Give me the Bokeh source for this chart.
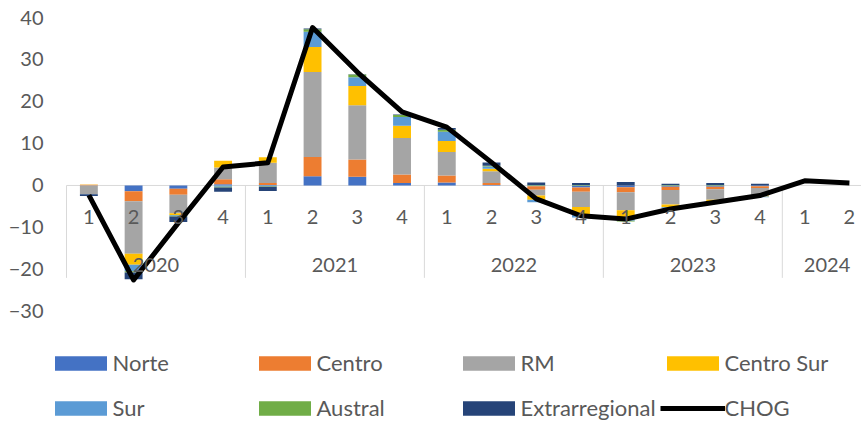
from bokeh.plotting import figure
from bokeh.models import Range1d, FixedTicker, Legend, LegendItem
from bokeh.core.properties import value
from bokeh.embed import file_html
from bokeh.resources import INLINE

# ---------------- data ----------------
years = ["2020", "2021", "2022", "2023", "2024"]
quarters_per_year = [4, 4, 4, 4, 2]
quarters = ["1", "2", "3", "4", "1", "2", "3", "4", "1", "2", "3", "4",
            "1", "2", "3", "4", "1", "2"]

norte = [0.0, -1.35, -0.8, 0.3, 0.1, 2.2, 2.1, 0.6, 0.7, 0.1, -0.2, -0.5,
         -0.4, -0.3, -0.3, -0.2, 0.0, 0.0]
centro = [0.15, -2.4, -1.4, 1.2, 0.5, 4.6, 4.1, 2.0, 1.7, 0.5, -0.8, -1.0,
          -1.2, -0.8, -0.6, -0.4, 0.0, 0.0]
rm = [-2.0, -12.5, -4.4, 2.8, 4.8, 20.2, 12.9, 8.7, 5.6, 2.8, -1.4, -3.6,
      -4.3, -3.4, -2.5, -1.8, 0.0, 0.0]
centro_sur = [0.1, -2.6, -0.4, 1.6, 1.3, 6.0, 4.6, 2.9, 2.6, 0.6, -1.0, -1.7,
              -1.6, -0.7, -0.6, -0.2, 0.0, 0.0]
sur = [-0.1, -1.6, -0.2, -0.3, -0.2, 3.6, 2.1, 2.1, 2.2, 0.5, -0.6, -0.8,
       -0.9, -0.3, -0.2, -0.2, 0.0, 0.0]
austral = [0.0, -0.3, -0.2, -0.2, -0.1, 0.6, 0.6, 0.5, 0.5, 0.2, 0.1, 0.1,
           -0.2, 0.1, 0.1, 0.0, 0.0, 0.0]
extrarregional = [-0.4, -1.6, -1.3, -1.0, -1.0, 0.2, 0.1, 0.1, 0.4, 0.8, 0.6, 0.5,
                  0.8, 0.3, 0.5, 0.4, 0.0, 0.0]
chog = [-2.3, -22.5, -8.9, 4.4, 5.4, 37.6, 27.0, 17.5, 13.9, 5.5, -3.2, -7.2,
        -8.0, -5.6, -4.0, -2.4, 1.1, 0.6]

series_names = ["Norte", "Centro", "RM", "Centro Sur", "Sur", "Austral", "Extrarregional"]
series_values = [norte, centro, rm, centro_sur, sur, austral, extrarregional]
series_colors = ["#4472C4", "#ED7D31", "#A5A5A5", "#FFC000", "#5B9BD5", "#70AD47", "#264478"]

y_ticks = [-30, -20, -10, 0, 10, 20, 30, 40]

# ---------------- figure ----------------
FONT = "Lato"
TXT = "#595959"
n = len(quarters)
xs = [i + 0.5 for i in range(n)]

p = figure(width=861, height=421, output_backend="svg", toolbar_location=None,
           x_range=Range1d(-0.4246, 17.77), y_range=Range1d(-56.2, 40),
           x_axis_location=None, min_border_left=47, min_border_right=0,
           min_border_top=17, min_border_bottom=0)
p.outline_line_color = None
p.xgrid.visible = False
p.ygrid.visible = False
p.background_fill_color = "white"
p.border_fill_color = "white"

yax = p.yaxis[0]
yax.ticker = FixedTicker(ticks=y_ticks)
yax.axis_line_color = None
yax.major_tick_line_color = None
yax.minor_tick_line_color = None
yax.major_tick_out = 0
yax.major_tick_in = 0
yax.major_label_standoff = 4
yax.major_label_text_font = FONT
yax.major_label_text_font_size = "20px"
yax.major_label_text_color = TXT

# zero (category) axis line
p.segment(x0=[0], y0=[0], x1=[n], y1=[0], line_color="#D9D9D9", line_width=1)

# year separators
bounds = [0]
for q in quarters_per_year:
    bounds.append(bounds[-1] + q)
p.segment(x0=bounds, y0=[0] * len(bounds), x1=bounds, y1=[-22] * len(bounds),
          line_color="#D9D9D9", line_width=1)

# stacked bars
pos = [0.0] * n
neg = [0.0] * n
bar_renderers = []
for name, vals, col in zip(series_names, series_values, series_colors):
    bottom, top = [], []
    for i, v in enumerate(vals):
        if v >= 0:
            bottom.append(pos[i]); top.append(pos[i] + v); pos[i] += v
        else:
            top.append(neg[i]); bottom.append(neg[i] + v); neg[i] += v
    r = p.vbar(x=xs, bottom=bottom, top=top, width=0.4, fill_color=col,
               line_color=None)
    bar_renderers.append(r)

line_r = p.line(xs, chog, line_color="black", line_width=5, line_join="round")

# category labels
p.text(x=xs, y=[-7.6] * n, text=quarters, text_align="center",
       text_baseline="middle", text_font=value(FONT), text_font_size="20px",
       text_color=TXT)
year_centers = [(bounds[i] + bounds[i + 1]) / 2 for i in range(len(years))]
p.text(x=year_centers, y=[-18.9] * len(years), text=years, text_align="center",
       text_baseline="middle", text_font=value(FONT), text_font_size="20px",
       text_color=TXT)

# legends
all_items = [LegendItem(label=nm, renderers=[r]) for nm, r in zip(series_names, bar_renderers)]
all_items.append(LegendItem(label="CHOG", renderers=[line_r]))


def make_legend(items, loc):
    lg = Legend(items=items, orientation="horizontal", location=loc,
                padding=0, margin=0, spacing=0, label_standoff=0,
                glyph_width=65, glyph_height=18, label_width=139, label_height=18,
                label_text_font=FONT, label_text_font_size="22px",
                label_text_color=TXT, border_line_color=None,
                background_fill_alpha=0)
    return lg

p.add_layout(make_legend(all_items[:4], (0.5, 45)))
p.add_layout(make_legend(all_items[4:], (0.5, 0)))

open("out.html", "w").write(file_html(p, INLINE))
